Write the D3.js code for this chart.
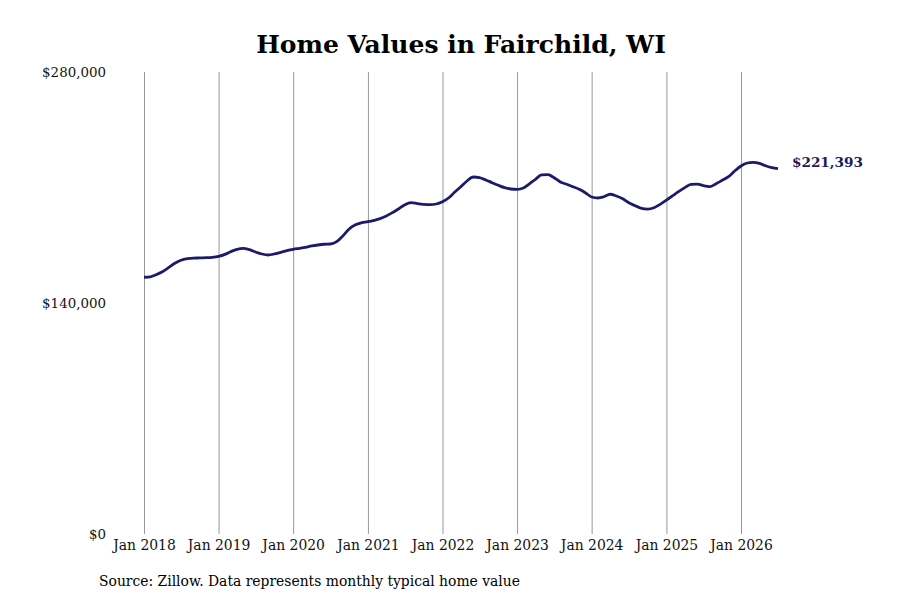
<!DOCTYPE html>
<html>
<head>
<meta charset="utf-8">
<script src="https://cdn.jsdelivr.net/npm/d3@7"></script>
<style>
  body { margin: 0; background: #fff; }
  text { font-family: "DejaVu Serif", serif; }
</style>
</head>
<body>
<script>
// Monthly typical home value, Jan 2018 .. Jul 2026
const startMonth = new Date(2018, 0, 1);
const values = [
  155600, 155900, 157150, 158950, 161400, 164050, 165900, 166850, 167250, 167300, 167450, 167700,
  168300, 169500, 171100, 172550, 173150, 172300, 170900, 169700, 169100, 169700, 170700, 171700,
  172550, 173150, 173750, 174550, 175150, 175600, 175750, 177150, 180800, 184850, 187450, 188650,
  189250, 190100, 191100, 192750, 194750, 197150, 199600, 200800, 200200, 199800, 199600, 200000,
  201400, 203800, 207100, 210500, 213950, 216350, 215950, 214550, 212900, 211350, 209900, 209100,
  208900, 209700, 212100, 214950, 217600, 217750, 215950, 213350, 211950, 210500, 208900, 206850,
  204250, 203650, 204400, 205900, 204850, 203200, 200800, 198950, 197400, 196950, 197750, 199800,
  202400, 205050, 207450, 209900, 211950, 212100, 211100, 210500, 212300, 214350, 216550, 220000,
  223050, 224850, 225250, 224650, 223200, 222000, 221393
];
const yTicks = [0, 140000, 280000];
const yearTicks = d3.range(2018, 2027);

const data = values.map((v, i) => ({
  date: new Date(startMonth.getFullYear(), startMonth.getMonth() + i, 1),
  value: v
}));

const width = 900;
const height = 600;

const svg = d3.select("body")
  .append("svg")
  .attr("width", width)
  .attr("height", height);

const xScale = d3.scaleTime()
  .domain([new Date(2018, 0, 1), new Date(2026, 0, 1)])
  .range([144, 741]);

const yScale = d3.scaleLinear()
  .domain([0, 280000])
  .range([534, 72]);

// vertical grid + year labels
const xAxis = d3.axisBottom(xScale)
  .tickValues(yearTicks.map(y => new Date(y, 0, 1)))
  .tickFormat(d3.timeFormat("Jan %Y"))
  .tickSize(-(yScale(0) - yScale(280000)))
  .tickPadding(6);

const gx = svg.append("g")
  .attr("transform", `translate(0, ${yScale(0)})`)
  .call(xAxis);
gx.select(".domain").remove();
gx.selectAll("line").attr("stroke", "#999").attr("stroke-width", 1);
gx.selectAll("text")
  .style("font-size", "13.9px")
  .attr("fill", "#111");

// y-axis labels only
const yAxis = d3.axisLeft(yScale)
  .tickValues(yTicks)
  .tickFormat(d => "$" + d3.format(",")(d))
  .tickSize(0)
  .tickPadding(38);

const gy = svg.append("g")
  .attr("transform", `translate(144, 0)`)
  .call(yAxis);
gy.select(".domain").remove();
gy.selectAll("text")
  .style("font-size", "13.4px")
  .attr("fill", "#111");

// the line
const line = d3.line()
  .x(d => xScale(d.date))
  .y(d => yScale(d.value))
  .curve(d3.curveMonotoneX);

svg.append("path")
  .datum(data)
  .attr("fill", "none")
  .attr("stroke", "#1b1a6b")
  .attr("stroke-width", 2.8)
  .attr("stroke-linejoin", "round")
  .attr("d", line);

// last value label
const last = data[data.length - 1];
svg.append("text")
  .attr("x", xScale(last.date) + 14)
  .attr("y", yScale(last.value) - 1.5)
  .style("font-size", "13.6px")
  .style("font-weight", "bold")
  .attr("fill", "#1b1a5e")
  .text("$" + d3.format(",")(last.value));

// title
svg.append("text")
  .attr("x", 461)
  .attr("y", 52.5)
  .attr("text-anchor", "middle")
  .style("font-size", "25px")
  .style("font-weight", "bold")
  .attr("fill", "#000")
  .text("Home Values in Fairchild, WI");

// source note
svg.append("text")
  .attr("x", 99)
  .attr("y", 586)
  .style("font-size", "13.9px")
  .attr("fill", "#000")
  .text("Source: Zillow. Data represents monthly typical home value");
</script>
</body>
</html>
